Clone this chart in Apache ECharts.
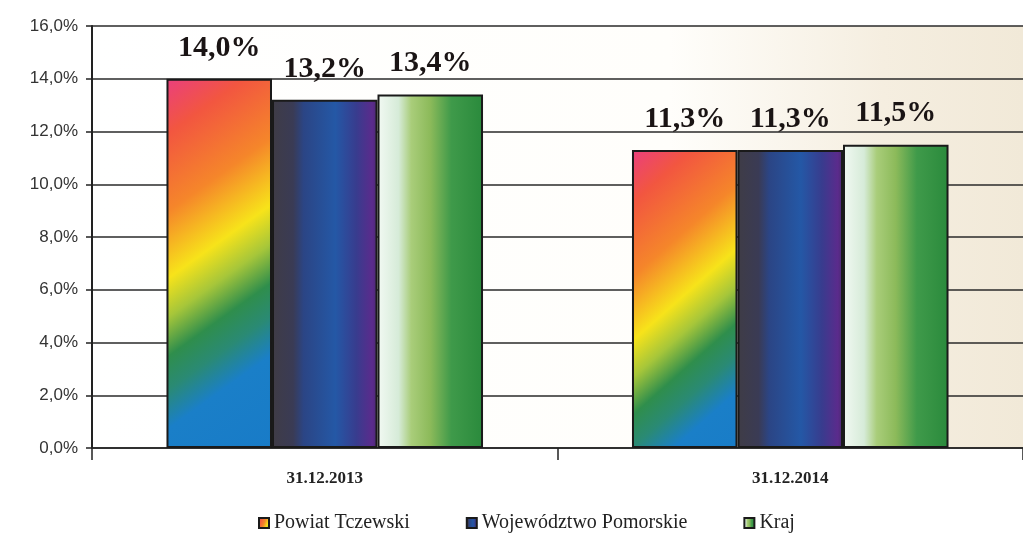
<!DOCTYPE html>
<html><head><meta charset="utf-8">
<script src="https://cdn.jsdelivr.net/npm/echarts@6/dist/echarts.min.js"></script>
<style>html,body{margin:0;padding:0;background:#fff}#c{width:1023px;height:538px}</style>
</head><body><div id="c"></div>
<script>
const categories = ['31.12.2013', '31.12.2014'];
const seriesNames = ['Powiat Tczewski', 'Województwo Pomorskie', 'Kraj'];
const powiat = [14.0, 11.3];
const wojewodztwo = [13.2, 11.3];
const kraj = [13.4, 11.5];
const yTicks = [0, 2, 4, 6, 8, 10, 12, 14, 16];

const fmt = v => v.toFixed(1).replace('.', ',') + '%';

const rainbow = {type:'linear', x:0, y:0, x2:2.5, y2:1, colorStops:[
  {offset:0, color:'#ea3f7e'},{offset:0.1, color:'#f25640'},{offset:0.24, color:'#f5862a'},
  {offset:0.36, color:'#f7e31a'},{offset:0.43, color:'#a6c63a'},{offset:0.5, color:'#2f8e4c'},
  {offset:0.56, color:'#2a8a74'},{offset:0.63, color:'#1a7fc8'},{offset:1, color:'#1676c6'}]};
const blue = {type:'linear', x:0, y:0, x2:1, y2:0, colorStops:[
  {offset:0, color:'#3f3c46'},{offset:0.2, color:'#3a3b55'},{offset:0.3, color:'#2b4585'},
  {offset:0.6, color:'#2458a6'},{offset:0.8, color:'#383c8e'},{offset:0.95, color:'#5b2b8c'},{offset:1, color:'#4a2a70'}]};
const green = {type:'linear', x:0, y:0, x2:1, y2:0, colorStops:[
  {offset:0, color:'#f2f9f3'},{offset:0.2, color:'#d6ebd8'},{offset:0.32, color:'#a9cd7a'},
  {offset:0.5, color:'#8cba5a'},{offset:0.7, color:'#3f9a4a'},{offset:1, color:'#2a8a3c'}]};

const label = {show:true, position:'top', distance:16, formatter: p => fmt(p.value),
  fontFamily:'Liberation Serif', fontWeight:'bold', fontSize:30, color:'#1a1414'};
function mk(name, data, color){
  return {name, type:'bar', data, barGap:'0%', barCategoryGap:'32%',
    itemStyle:{color, borderColor:'#1a1a1a', borderWidth:2}, label};
}

const chart = echarts.init(document.getElementById('c'), null, {renderer:'canvas'});
chart.setOption({
  animation:false,
  grid:{left:92, width:936, top:26, bottom:90, show:true, borderWidth:0,
    backgroundColor:{type:'linear', x:0, y:0, x2:1, y2:0, colorStops:[
      {offset:0, color:'#ffffff'},{offset:0.62, color:'#fffefb'},{offset:0.85, color:'#f5eee0'},{offset:1, color:'#f1e9d8'}]}},
  legend:{bottom:0, left:253, icon:'rect', itemWidth:10, itemHeight:10, itemGap:56,
    textStyle:{fontFamily:'Liberation Serif', fontSize:20, color:'#222'},
    data:seriesNames},
  xAxis:{type:'category', data:categories,
    axisLine:{lineStyle:{color:'#222', width:1.5}},
    axisTick:{show:true, length:12, lineStyle:{color:'#222', width:1.5}},
    axisLabel:{fontFamily:'Liberation Serif', fontWeight:'bold', fontSize:17, color:'#222', margin:22}},
  yAxis:{type:'value', min:0, max:16, interval:2,
    axisLine:{show:true, lineStyle:{color:'#222', width:2}},
    axisTick:{show:true, length:6, lineStyle:{color:'#222', width:1.5}},
    splitLine:{lineStyle:{color:'#2a2a2a', width:1.5}},
    axisLabel:{formatter: v => yTicks.includes(v) ? fmt(v) : '', fontFamily:'Liberation Sans', fontSize:17, color:'#333', margin:14}},
  series:[mk(seriesNames[0], powiat, rainbow), mk(seriesNames[1], wojewodztwo, blue), mk(seriesNames[2], kraj, green)]
});
</script></body></html>
